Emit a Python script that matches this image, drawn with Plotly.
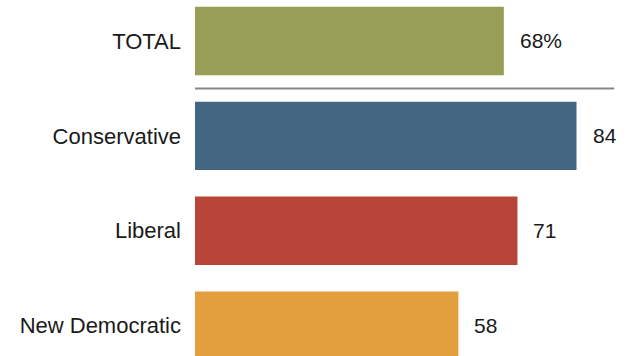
import plotly.graph_objects as go

# Share of each group (percent)
categories = ["TOTAL", "Conservative", "Liberal", "New Democratic"]
values = [68, 84, 71, 58]
value_labels = ["68%", "84", "71", "58"]
bar_colors = ["#989E55", "#436782", "#B94538", "#E39E3E"]

font_family = "Liberation Sans, Arial, sans-serif"
text_color = "#1a1a1a"

fig = go.Figure()
fig.add_trace(go.Bar(
    x=values,
    y=categories,
    orientation="h",
    marker=dict(color=bar_colors, line=dict(width=0)),
    hoverinfo="skip",
))

# Value labels just past the end of each bar
for cat, val, lab in zip(categories, values, value_labels):
    fig.add_annotation(
        x=val, y=cat, text=lab, showarrow=False,
        xanchor="left", yanchor="middle", xshift=14,
        font=dict(family=font_family, size=21, color=text_color),
    )

# Separator between the total and the party breakdown
fig.add_shape(
    type="line", xref="x", yref="y",
    x0=-0.9, x1=92.3, y0=0.5, y1=0.5,
    line=dict(color="#87878a", width=2),
)

fig.update_layout(
    width=626, height=356,
    margin=dict(l=195, r=0, t=0, b=0),
    paper_bgcolor="white", plot_bgcolor="white",
    bargap=0.28,
    showlegend=False,
    font=dict(family=font_family, size=21, color=text_color),
    xaxis=dict(range=[0, 94.9], visible=False, fixedrange=True),
    yaxis=dict(
        type="category",
        categoryorder="array", categoryarray=categories,
        range=[3.32, -0.432],
        showgrid=False, zeroline=False, showline=False,
        ticks="", ticklabelstandoff=13,
        tickfont=dict(family=font_family, size=22, color=text_color),
    ),
)

fig.write_html("out.html")
